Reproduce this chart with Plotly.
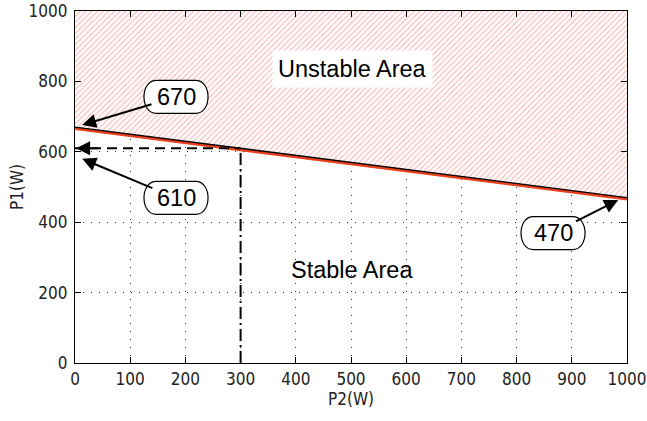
import plotly.graph_objects as go

# Data
p2_boundary = [0, 1000]
p1_boundary = [670, 470]
op_p2 = 300
op_p1 = 610
x_ticks = [0, 100, 200, 300, 400, 500, 600, 700, 800, 900, 1000]
y_ticks = [0, 200, 400, 600, 800, 1000]
labels = ["670", "610", "470"]
label_pos = [(183, 756), (183, 469), (866, 369)]
arrow_tips = [(13, 676), (13, 580), (984, 463)]

FONT = "Liberation Sans Narrow, DejaVu Sans Condensed, Liberation Sans, Arial"
FONT2 = "Liberation Sans, Arial"

fig = go.Figure()

# Unstable hatched area
fig.add_trace(go.Scatter(
    x=p2_boundary + [p2_boundary[1], p2_boundary[0]],
    y=p1_boundary + [1000, 1000],
    fill="toself", mode="none",
    fillcolor="white",
    fillpattern=dict(shape="/", fgcolor="#f07878", bgcolor="white", size=4, solidity=0.3),
    hoverinfo="skip", showlegend=False))

# red boundary band
fig.add_trace(go.Scatter(x=p2_boundary, y=[v - 4 for v in p1_boundary], mode="lines",
                         line=dict(color="#e8401c", width=3), showlegend=False))
fig.add_trace(go.Scatter(x=p2_boundary, y=p1_boundary, mode="lines",
                         line=dict(color="black", width=1.3), showlegend=False))

# operating point lines
fig.add_trace(go.Scatter(x=[0, op_p2], y=[op_p1, op_p1], mode="lines",
                         line=dict(color="black", width=2, dash="10px,6px"), showlegend=False))
fig.add_trace(go.Scatter(x=[op_p2, op_p2], y=[0, op_p1], mode="lines",
                         line=dict(color="black", width=2, dash="12px,4px,2px,4px"), showlegend=False))

# arrowhead on dashed line
fig.add_annotation(x=2, y=op_p1, ax=45, ay=op_p1, xref="x", yref="y", axref="x", ayref="y",
                   text="", showarrow=True, arrowhead=2, arrowsize=1.4, arrowwidth=2, arrowcolor="black")

# callouts
bw, bh = 123, 94
for lab, (lx, ly), (tx, ty) in zip(labels, label_pos, arrow_tips):
    fig.add_annotation(x=tx, y=ty, ax=lx, ay=ly, xref="x", yref="y", axref="x", ayref="y",
                       text="", showarrow=True, arrowhead=2, arrowsize=1.4, arrowwidth=2,
                       arrowcolor="black", standoff=0, startstandoff=24)
    x0, x1, y0, y1 = lx - bw / 2, lx + bw / 2, ly - bh / 2, ly + bh / 2
    rx = 26
    path = (f"M {x0 + rx},{y0} L {x1 - rx},{y0} C {x1 + 4},{y0} {x1 + 4},{y1} {x1 - rx},{y1} "
            f"L {x0 + rx},{y1} C {x0 - 4},{y1} {x0 - 4},{y0} {x0 + rx},{y0} Z")
    fig.add_shape(type="path", path=path, xref="x", yref="y",
                  fillcolor="white", line=dict(color="black", width=1.2), layer="above")
    fig.add_annotation(x=lx, y=ly, text=lab, showarrow=False,
                       font=dict(family=FONT2, size=23.5, color="black"))

fig.add_annotation(x=502, y=834, text="Unstable Area", showarrow=False, bgcolor="white",
                   borderpad=5, font=dict(family=FONT2, size=23.5, color="black"))
fig.add_annotation(x=502, y=264, text="Stable Area", showarrow=False,
                   font=dict(family=FONT2, size=23.5, color="black"))

axis_common = dict(showline=True, linecolor="black", linewidth=1.3, mirror="ticks",
                   ticks="inside", ticklen=6, tickcolor="black", automargin=False,
                   ticklabeloverflow="allow",
                   showgrid=True, gridcolor="#333333", griddash="1px,7px", gridwidth=1.3,
                   zeroline=False, tickfont=dict(family=FONT, size=17, color="#222222"))

fig.update_xaxes(range=[0, 1000], tickvals=x_ticks, ticktext=[str(v) for v in x_ticks],
                 ticklabelstandoff=0,
                 title=dict(text="P2(W)", font=dict(family=FONT, size=17, color="#222222"), standoff=0),
                 **axis_common)
fig.update_yaxes(range=[0, 1000], tickvals=y_ticks, ticktext=[str(v) for v in y_ticks],
                 ticklabelstandoff=3,
                 title=dict(text="P1(W)", font=dict(family=FONT, size=17, color="#222222"), standoff=0),
                 **axis_common)

fig.update_layout(width=647, height=421, plot_bgcolor="white", paper_bgcolor="white",
                  margin=dict(l=75, r=20, t=11, b=58), showlegend=False)

fig.write_html("out.html", config={"displayModeBar": False},
               post_script="document.body.style.margin='0';document.body.style.overflow='hidden';")
